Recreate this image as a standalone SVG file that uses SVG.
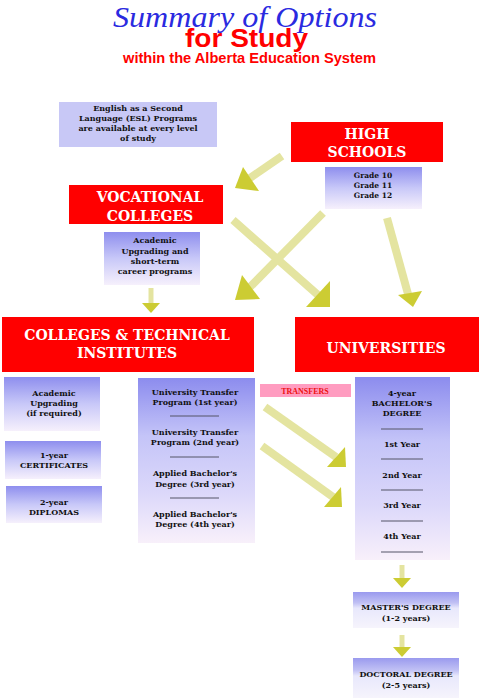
<svg xmlns="http://www.w3.org/2000/svg" width="479" height="698" viewBox="0 0 479 698">
<defs>
<linearGradient id="gBox" x1="0" y1="0" x2="0" y2="1">
<stop offset="0" stop-color="#8e8eee"/>
<stop offset="0.5" stop-color="#c8c8f8"/>
<stop offset="1" stop-color="#f6f0fc"/>
</linearGradient>
<linearGradient id="gTall" x1="0" y1="0" x2="0" y2="1">
<stop offset="0" stop-color="#8c8cee"/>
<stop offset="0.35" stop-color="#c4c4f8"/>
<stop offset="0.7" stop-color="#dcd8fa"/>
<stop offset="1" stop-color="#f8f0fa"/>
</linearGradient>
<linearGradient id="gBand" x1="0" y1="0" x2="0" y2="1">
<stop offset="0" stop-color="#9a9aee"/>
<stop offset="0.3" stop-color="#c0c0f4"/>
<stop offset="0.45" stop-color="#e8e8fc"/>
<stop offset="1" stop-color="#f6f4fc"/>
</linearGradient>
<style>
.red{fill:#ff0000}
.hdr{font-family:"DejaVu Serif",serif;font-weight:bold;font-size:14px;fill:#ffffff;text-anchor:middle}
.bt{font-family:"DejaVu Serif",serif;font-weight:bold;font-size:8px;fill:#111111;text-anchor:middle}
.bs{font-family:"DejaVu Serif",serif;font-weight:bold;font-size:7.5px;fill:#111111;text-anchor:middle}
.sep{stroke:#555566;stroke-width:1}
.shaft{stroke:#e4e4a0;stroke-width:8;fill:none}
.shs{stroke:#e4e4a0;stroke-width:5;fill:none}
.head{fill:#cccc33}
</style>
</defs>

<g id="title">
<text x="113" y="27" font-family="Liberation Serif, serif" font-style="italic" font-size="30" fill="#2a2ae0" textLength="264" lengthAdjust="spacingAndGlyphs">Summary of Options</text>
<text x="185" y="47" font-family="Liberation Sans, sans-serif" font-weight="bold" font-size="25" fill="#ff0000" textLength="123" lengthAdjust="spacingAndGlyphs">for Study</text>
<text x="123" y="63" font-family="Liberation Sans, sans-serif" font-weight="bold" font-size="14" fill="#ff0000" textLength="253" lengthAdjust="spacingAndGlyphs">within the Alberta Education System</text>
</g>

<g id="connectors">
<line class="shaft" x1="282" y1="156" x2="250" y2="178"/>
<polygon class="head" points="243,167 259,191 235,188"/>
<line class="shaft" x1="233" y1="220" x2="318" y2="295"/>
<polygon class="head" points="330,281 330,307 306,307"/>
<line class="shaft" x1="323" y1="213" x2="250" y2="287"/>
<polygon class="head" points="242,275 235,300 260,299"/>
<line class="shaft" x1="387" y1="218" x2="408" y2="294"/>
<polygon class="head" points="398,295 422,291 413,307"/>
<line class="shs" x1="151" y1="288" x2="151" y2="304"/>
<polygon class="head" points="142,303 160,303 151,313"/>
<line class="shaft" x1="265" y1="407" x2="336" y2="457"/>
<polygon class="head" points="345,447 346,467 327,467"/>
<line class="shaft" x1="262" y1="446" x2="333" y2="497"/>
<polygon class="head" points="341,487 342,507 324,507"/>
<line class="shs" x1="402" y1="565" x2="402" y2="579"/>
<polygon class="head" points="393,578 411,578 402,588"/>
<line class="shs" x1="402" y1="635" x2="402" y2="648"/>
<polygon class="head" points="393,647 411,647 402,657"/>
</g>

<g id="esl">
<rect x="59" y="102" width="158" height="45" fill="#c8c8f6"/>
<text class="bt" x="138" y="111">English as a Second</text>
<text class="bt" x="138" y="121">Language (ESL) Programs</text>
<text class="bt" x="138" y="131">are available at every level</text>
<text class="bt" x="138" y="141">of study</text>
</g>

<g id="high-schools">
<rect class="red" x="291" y="122" width="152" height="40"/>
<text class="hdr" x="367" y="139">HIGH</text>
<text class="hdr" x="367" y="157">SCHOOLS</text>
</g>

<g id="grades">
<rect x="325" y="167" width="97" height="42" fill="url(#gBox)"/>
<text class="bs" x="373" y="178">Grade 10</text>
<text class="bs" x="373" y="188">Grade 11</text>
<text class="bs" x="373" y="198">Grade 12</text>
</g>

<g id="vocational">
<rect class="red" x="69" y="185" width="154" height="39"/>
<text class="hdr" x="150" y="202">VOCATIONAL</text>
<text class="hdr" x="150" y="221">COLLEGES</text>
</g>

<g id="voc-programs">
<rect x="104" y="232" width="96" height="53" fill="url(#gBox)"/>
<text class="bt" x="155" y="243">Academic</text>
<text class="bt" x="155" y="254">Upgrading and</text>
<text class="bt" x="155" y="264">short-term</text>
<text class="bt" x="155" y="274">career programs</text>
</g>

<g id="colleges">
<rect class="red" x="2" y="317" width="252" height="55"/>
<text class="hdr" x="127" y="340">COLLEGES &amp; TECHNICAL</text>
<text class="hdr" x="127" y="358">INSTITUTES</text>
</g>

<g id="universities">
<rect class="red" x="295" y="317" width="184" height="55"/>
<text class="hdr" x="386" y="353">UNIVERSITIES</text>
</g>

<g id="academic-upgrading">
<rect x="4" y="377" width="96" height="54" fill="url(#gBox)"/>
<text class="bt" x="54" y="396">Academic</text>
<text class="bt" x="54" y="406">Upgrading</text>
<text class="bt" x="54" y="416">(if required)</text>
</g>

<g id="certificates">
<rect x="5" y="441" width="96" height="38" fill="url(#gBox)"/>
<text class="bt" x="54" y="458">1-year</text>
<text class="bt" x="54" y="468">CERTIFICATES</text>
</g>

<g id="diplomas">
<rect x="6" y="486" width="96" height="37" fill="url(#gBox)"/>
<text class="bt" x="54" y="505">2-year</text>
<text class="bt" x="54" y="515">DIPLOMAS</text>
</g>

<g id="transfer-programs">
<rect x="138" y="378" width="117" height="165" fill="url(#gTall)"/>
<text class="bt" x="195" y="395">University Transfer</text>
<text class="bt" x="195" y="405">Program (1st year)</text>
<line class="sep" x1="170" y1="416" x2="219" y2="416"/>
<text class="bt" x="195" y="435">University Transfer</text>
<text class="bt" x="195" y="445">Program (2nd year)</text>
<line class="sep" x1="170" y1="457" x2="219" y2="457"/>
<text class="bt" x="195" y="476">Applied Bachelor's</text>
<text class="bt" x="195" y="487">Degree (3rd year)</text>
<line class="sep" x1="170" y1="498" x2="219" y2="498"/>
<text class="bt" x="195" y="517">Applied Bachelor's</text>
<text class="bt" x="195" y="527">Degree (4th year)</text>
</g>

<g id="transfers">
<rect x="260" y="384" width="91" height="13" fill="#ff9cc0"/>
<text x="305" y="394" font-family="Liberation Serif, serif" font-weight="bold" font-size="8" fill="#ee1111" text-anchor="middle">TRANSFERS</text>
</g>

<g id="bachelors">
<rect x="355" y="377" width="95" height="183" fill="url(#gTall)"/>
<text class="bt" x="402" y="396">4-year</text>
<text class="bt" x="402" y="406">BACHELOR'S</text>
<text class="bt" x="402" y="416">DEGREE</text>
<line class="sep" x1="381" y1="429" x2="423" y2="429"/>
<text class="bt" x="402" y="447">1st Year</text>
<line class="sep" x1="381" y1="459" x2="423" y2="459"/>
<text class="bt" x="402" y="478">2nd Year</text>
<line class="sep" x1="381" y1="490" x2="423" y2="490"/>
<text class="bt" x="402" y="508">3rd Year</text>
<line class="sep" x1="381" y1="521" x2="423" y2="521"/>
<text class="bt" x="402" y="539">4th Year</text>
<line class="sep" x1="381" y1="552" x2="423" y2="552"/>
</g>

<g id="masters">
<rect x="353" y="592" width="106" height="36" fill="url(#gBand)"/>
<text class="bt" x="406" y="610">MASTER'S DEGREE</text>
<text class="bt" x="406" y="621">(1-2 years)</text>
</g>

<g id="doctoral">
<rect x="353" y="658" width="106" height="40" fill="url(#gBand)"/>
<text class="bt" x="406" y="677">DOCTORAL DEGREE</text>
<text class="bt" x="406" y="688">(2-5 years)</text>
</g>
</svg>
